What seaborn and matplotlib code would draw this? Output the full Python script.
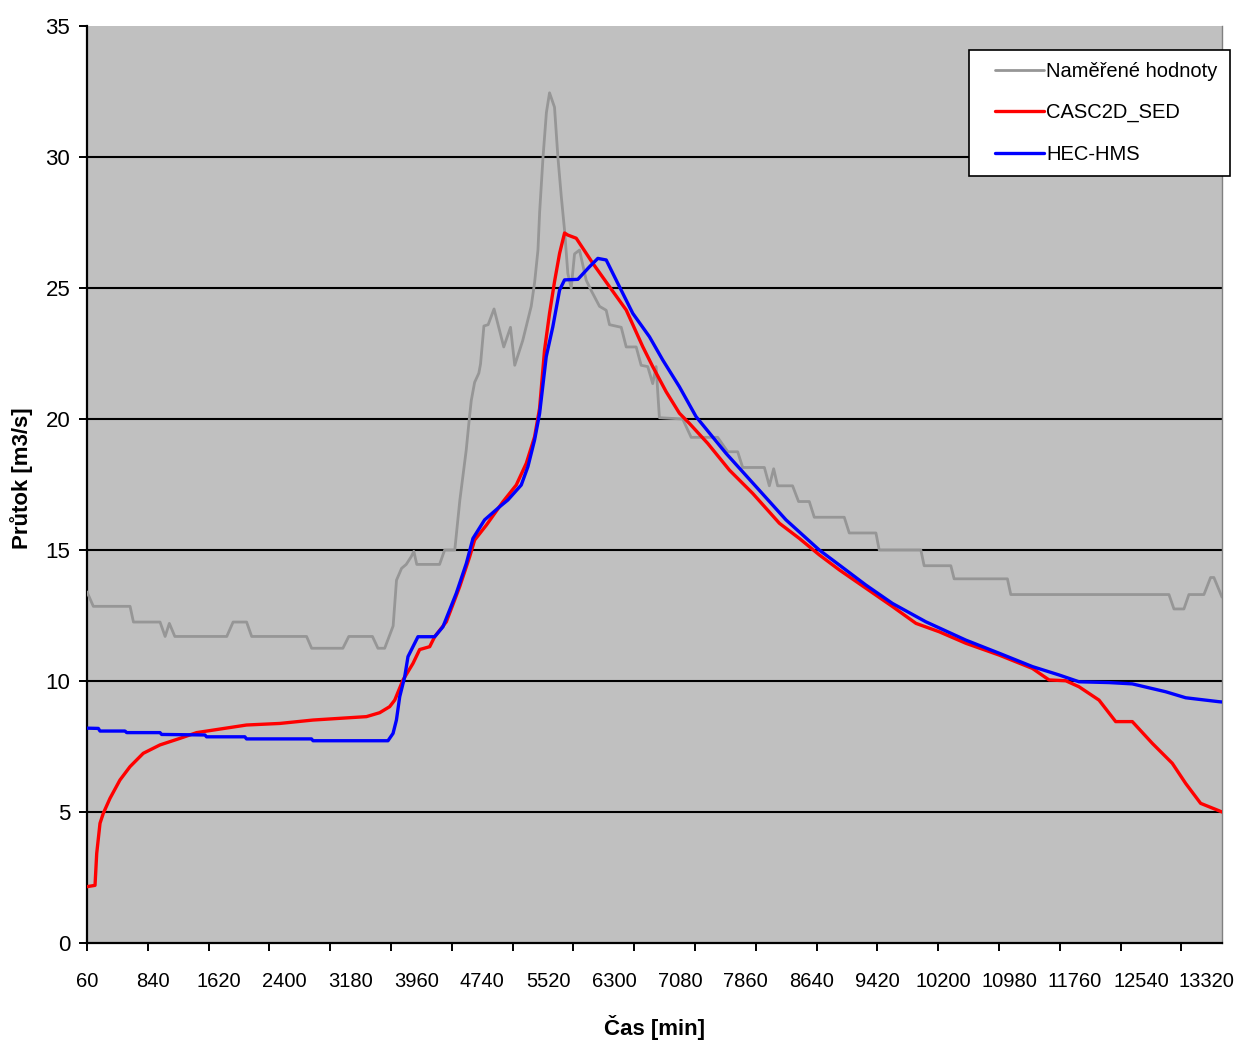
import pandas as pd
import matplotlib
matplotlib.use("Agg")
import matplotlib.pyplot as plt
import seaborn as sns
from matplotlib.legend_handler import HandlerLine2D

# measured discharge (time in min, discharge in m3/s)
measured_t = [60, 135, 570, 610, 925, 985, 1035, 1100, 1715, 1790, 1950, 2010,
              2660, 2720, 3090, 3160, 3440, 3505, 3585, 3685, 3725, 3785, 3840,
              3900, 3930, 3965, 4235, 4295, 4415, 4475, 4550, 4590, 4610, 4650,
              4700, 4720, 4760, 4810, 4880, 4995, 5075, 5125, 5220, 5320, 5360,
              5400, 5420, 5460, 5500, 5537, 5596, 5636, 5676, 5715, 5754, 5794,
              5833, 5892, 5971, 6031, 6129, 6208, 6247, 6386, 6445, 6563, 6622,
              6700, 6759, 6799, 6838, 7114, 7214, 7528, 7647, 7765, 7824, 8081,
              8140, 8191, 8238, 8415, 8486, 8613, 8672, 9027, 9086, 9402, 9441,
              9934, 9973, 10289, 10328, 10959, 10999, 12872, 12931, 13049, 13108,
              13286, 13365, 13404, 13500]
measured_q = [13.4, 12.85, 12.85, 12.25, 12.25, 11.7, 12.2, 11.7, 11.7, 12.25, 12.25, 11.7,
              11.7, 11.25, 11.25, 11.7, 11.7, 11.25, 11.25, 12.1, 13.85, 14.3, 14.45,
              14.75, 14.95, 14.45, 14.45, 15.0, 15.0, 16.9, 18.8, 20.1, 20.7, 21.4,
              21.75, 22.1, 23.55, 23.6, 24.2, 22.75, 23.5, 22.05, 23.0, 24.3, 25.2,
              26.45, 27.9, 30.0, 31.7, 32.45, 31.9, 30.0, 28.5, 27.2, 25.55, 25.0,
              26.3, 26.45, 25.3, 24.9, 24.3, 24.15, 23.6, 23.5, 22.75, 22.75, 22.05,
              22.0, 21.35, 22.0, 20.05, 20.0, 19.3, 19.3, 18.75, 18.75, 18.15, 18.15,
              17.45, 18.1, 17.45, 17.45, 16.85, 16.85, 16.25, 16.25, 15.65, 15.65, 15.0,
              15.0, 14.4, 14.4, 13.9, 13.9, 13.3, 13.3, 12.75, 12.75, 13.3,
              13.3, 13.95, 13.95, 13.2]

# CASC2D_SED model
casc_t = [60, 155, 175, 214, 253, 332, 450, 569, 726, 924, 1160, 1358, 1949, 2343,
          2737, 3369, 3526, 3644, 3704, 3802, 3920, 3999, 4118, 4177, 4315, 4473,
          4591, 4650, 4789, 4985, 5143, 5262, 5360, 5419, 5478, 5537, 5596, 5656,
          5715, 5754, 5853, 6050, 6247, 6445, 6641, 6759, 6918, 7075, 7194, 7410,
          7667, 7943, 8259, 8496, 8733, 8969, 9284, 9599, 9876, 10151, 10467, 10861,
          11255, 11452, 11650, 11807, 12044, 12241, 12438, 12675, 12911, 13070,
          13247, 13463, 13500]
casc_q = [2.15, 2.2, 3.42, 4.57, 4.95, 5.52, 6.22, 6.73, 7.24, 7.56, 7.81, 8.03, 8.32, 8.38,
          8.51, 8.64, 8.79, 9.02, 9.27, 10.04, 10.67, 11.2, 11.31, 11.69, 12.26, 13.6,
          14.74, 15.38, 15.95, 16.84, 17.48, 18.31, 19.32, 20.4, 22.63, 24.03, 25.24, 26.32,
          27.1, 27.02, 26.9, 25.94, 25.05, 24.16, 22.76, 22.0, 21.04, 20.22, 19.83, 19.07,
          18.05, 17.16, 16.02, 15.44, 14.81, 14.24, 13.54, 12.84, 12.2, 11.88, 11.44, 10.99,
          10.48, 10.04, 10.01, 9.78, 9.27, 8.45, 8.45, 7.62, 6.86, 6.09,
          5.33, 5.05, 5.0]

# HEC-HMS model
hms_t = [60, 194, 214, 510, 530, 924, 944, 1456, 1476, 1929, 1949, 2718, 2737, 3624,
         3684, 3724, 3763, 3822, 3861, 3979, 4177, 4275, 4433, 4552, 4630, 4768, 4946,
         5044, 5202, 5281, 5360, 5419, 5498, 5576, 5656, 5715, 5872, 6010, 6109, 6208,
         6345, 6523, 6720, 6878, 7075, 7272, 7627, 7982, 8337, 8731, 8967, 9284, 9598,
         9993, 10467, 10861, 11255, 11571, 11807, 12162, 12438, 12833, 13070, 13463, 13500]
hms_q = [8.2, 8.19, 8.09, 8.09, 8.03, 8.03, 7.96, 7.94, 7.87, 7.87, 7.79, 7.79, 7.72, 7.72,
         8.0, 8.51, 9.4, 10.16, 10.93, 11.69, 11.69, 12.07, 13.35, 14.49, 15.44, 16.15, 16.65,
         16.91, 17.48, 18.18, 19.2, 20.2, 22.38, 23.52, 24.92, 25.31, 25.33, 25.81, 26.13, 26.07,
         25.18, 24.03, 23.14, 22.25, 21.23, 20.09, 18.69, 17.42, 16.15, 15.0, 14.43, 13.66, 12.96,
         12.26, 11.56, 11.06, 10.55, 10.23, 9.97, 9.94, 9.89, 9.59, 9.36, 9.21, 9.2]

series_names = ["Naměřené hodnoty", "CASC2D_SED", "HEC-HMS"]
series_colors = ["#969696", "#ff0000", "#0000ff"]

major_ticks = list(range(60, 13100, 720))
label_ticks = list(range(60, 13400, 780))
y_ticks = [0, 5, 10, 15, 20, 25, 30, 35]

sns.set_style("white")
plt.rcParams["font.family"] = ["Liberation Sans", "DejaVu Sans"]
plt.rcParams["text.color"] = "black"
plt.rcParams["xtick.color"] = "black"
plt.rcParams["ytick.color"] = "black"

fig = plt.figure(figsize=(12.41, 10.41), dpi=100)
ax = fig.add_axes([87 / 1241, 1 - 943 / 1041, (1222 - 87) / 1241, (943 - 26) / 1041])
ax.set_facecolor("#c0c0c0")

for y in y_ticks[1:-1]:
    ax.axhline(y, color="black", lw=1.5, zorder=1)

data = [(measured_t, measured_q), (casc_t, casc_q), (hms_t, hms_q)]
widths = [2.0, 2.4, 2.4]
for (t, q), name, col, lw in zip(data, series_names, series_colors, widths):
    df = pd.DataFrame({"t": t, "q": q})
    sns.lineplot(data=df, x="t", y="q", color=col, lw=lw, label=name,
                 estimator=None, sort=False, ax=ax, zorder=3)

ax.set_xlim(60, 13500)
ax.set_ylim(0, 35)
ax.set_xlabel("")
ax.set_ylabel("")

# tick marks every 720 min, labels every 780 min (as in the Excel original)
ax.xaxis.remove_overlapping_locs = False
ax.set_xticks(major_ticks)
ax.set_xticklabels([""] * len(major_ticks))
ax.set_xticks(label_ticks, minor=True)
ax.set_xticklabels([str(v) for v in label_ticks], minor=True)
ax.tick_params(axis="x", which="major", direction="out", length=6, width=1.4,
               color="black", bottom=True)
ax.tick_params(axis="x", which="minor", length=0, pad=21, labelsize=14.5, bottom=True)
ax.set_yticks(y_ticks)
ax.set_yticklabels([str(v) for v in y_ticks])
ax.tick_params(axis="y", direction="out", length=6, width=1.4, color="black",
               pad=6, labelsize=16, left=True)

for side in ["left", "bottom"]:
    ax.spines[side].set_color("black")
    ax.spines[side].set_linewidth(1.6)
ax.spines["top"].set_visible(False)
ax.spines["right"].set_color("#808080")
ax.spines["right"].set_linewidth(1.0)

handles, labels = ax.get_legend_handles_labels()
ax.get_legend().remove()
leg = fig.legend(handles, labels, loc="upper left",
                 bbox_to_anchor=(969 / 1241, 1 - 50 / 1041), borderaxespad=0,
                 frameon=True, fancybox=False, edgecolor="black", framealpha=1,
                 fontsize=14.5, numpoints=2, handlelength=3.83, handletextpad=-0.6,
                 borderpad=0.6, labelspacing=1.1,
                 handler_map={h: HandlerLine2D(marker_pad=0.7) for h in handles})
leg.get_frame().set_linewidth(1.2)

fig.text(22 / 1241, 1 - 478 / 1041, "Průtok [m3/s]", rotation=90, ha="center",
         va="center", fontsize=16, fontweight="bold")
fig.text(655 / 1241, 1 - 1027 / 1041, "Čas [min]", ha="center", va="center",
         fontsize=16, fontweight="bold")

fig.savefig("out.png", dpi=100, facecolor="white")
